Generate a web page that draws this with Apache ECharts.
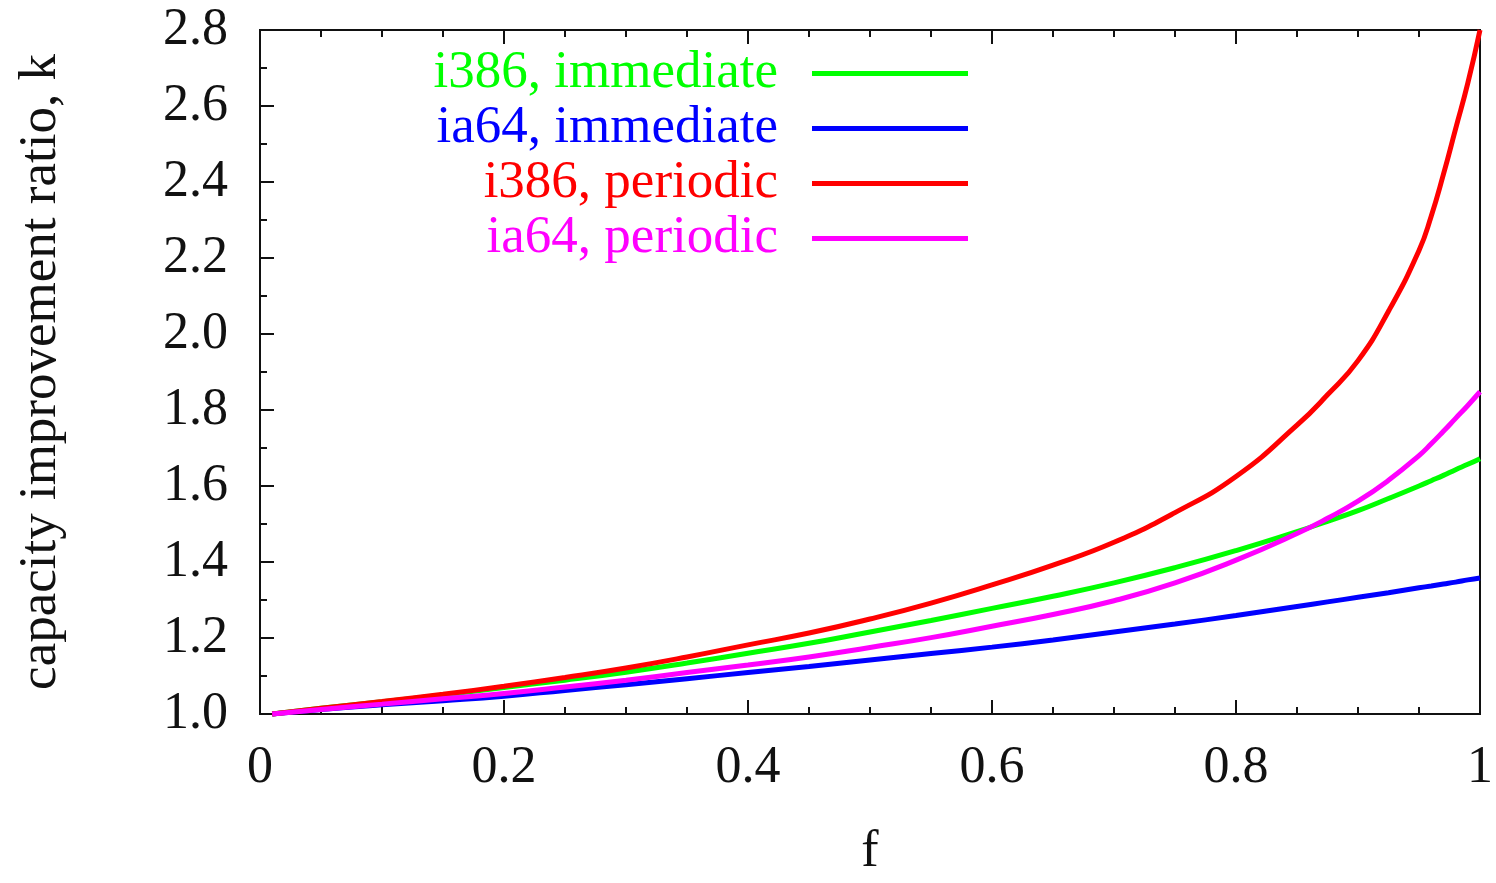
<!DOCTYPE html>
<html>
<head>
<meta charset="utf-8">
<script src="https://cdn.jsdelivr.net/npm/echarts@6/dist/echarts.min.js"></script>
<style>
  html, body { margin: 0; padding: 0; background: #fff; overflow: hidden; }
  #chart { width: 1496px; height: 883px; }
</style>
</head>
<body>
<div id="chart"></div>
<script>
// f values (x) shared by all curves
var fValues = [0.01, 0.05, 0.1, 0.15, 0.2, 0.25, 0.3, 0.35, 0.4, 0.45, 0.5, 0.55, 0.6, 0.65, 0.7, 0.75, 0.8, 0.85, 0.875, 0.9, 0.925, 0.95, 0.96, 0.97, 0.98, 0.99, 1.0];

// capacity improvement ratio k
var i386Immediate = [1.0, 1.015, 1.032, 1.05, 1.07, 1.089, 1.11, 1.134, 1.16, 1.186, 1.216, 1.246, 1.278, 1.31, 1.345, 1.385, 1.43, 1.48, 1.507, 1.535, 1.567, 1.6, 1.614, 1.628, 1.643, 1.657, 1.672];
var ia64Immediate = [1.0, 1.012, 1.024, 1.035, 1.047, 1.062, 1.077, 1.093, 1.109, 1.125, 1.142, 1.159, 1.176, 1.195, 1.216, 1.237, 1.259, 1.283, 1.295, 1.307, 1.319, 1.332, 1.337, 1.342, 1.347, 1.353, 1.358];
var i386Periodic  = [1.0, 1.015, 1.033, 1.052, 1.073, 1.096, 1.121, 1.15, 1.182, 1.213, 1.25, 1.292, 1.34, 1.392, 1.452, 1.53, 1.625, 1.76, 1.84, 1.93, 2.06, 2.22, 2.31, 2.42, 2.54, 2.66, 2.8];
var ia64Periodic  = [1.0, 1.012, 1.026, 1.04, 1.054, 1.071, 1.089, 1.109, 1.129, 1.15, 1.175, 1.201, 1.231, 1.262, 1.298, 1.345, 1.405, 1.475, 1.515, 1.56, 1.615, 1.68, 1.711, 1.744, 1.778, 1.812, 1.848];

var seriesNames = ['i386, immediate', 'ia64, immediate', 'i386, periodic', 'ia64, periodic'];
var seriesColors = ['#00ff00', '#0000ff', '#ff0000', '#ff00ff'];
var seriesValues = [i386Immediate, ia64Immediate, i386Periodic, ia64Periodic];

var xTickLabels = { 0: '0', 0.2: '0.2', 0.4: '0.4', 0.6: '0.6', 0.8: '0.8', 1: '1' };

var font = 'Liberation Serif';

function pairs(vals) {
  return fValues.map(function (f, i) { return [f, vals[i]]; });
}

var chart = echarts.init(document.getElementById('chart'));

var xAxisBase = {
  type: 'value',
  min: 0,
  max: 1,
  interval: 0.2,
  splitLine: { show: false },
  axisLine: { show: true, lineStyle: { color: '#111', width: 2 } },
  axisTick: { show: true, inside: true, length: 14, lineStyle: { color: '#111', width: 2 } },
  minorTick: { show: true, splitNumber: 4, length: 7, lineStyle: { color: '#111', width: 2 } }
};

chart.setOption({
  animation: false,
  backgroundColor: '#fff',
  grid: {
    left: 260, right: 9, top: 30, bottom: 159,
    show: true, borderColor: '#111', borderWidth: 2
  },
  legend: {
    orient: 'vertical',
    right: 528,
    top: 47,
    align: 'right',
    padding: 0,
    itemGap: 2,
    itemWidth: 156,
    itemHeight: 5,
    icon: 'rect',
    data: seriesNames.map(function (n, i) {
      return { name: n, textStyle: { color: seriesColors[i] } };
    }),
    textStyle: {
      fontFamily: font, fontSize: 53, lineHeight: 52,
      padding: [0, 29, 0, 0]
    }
  },
  xAxis: [
    Object.assign({}, xAxisBase, {
      position: 'bottom',
      name: 'f',
      nameLocation: 'middle',
      nameGap: 112,
      nameTextStyle: { fontFamily: font, fontSize: 52, color: '#111' },
      axisLabel: {
        margin: 28,
        fontFamily: font, fontSize: 52, color: '#111',
        formatter: function (v) { return xTickLabels[v] !== undefined ? xTickLabels[v] : ''; }
      }
    }),
    Object.assign({}, xAxisBase, {
      position: 'top',
      axisLabel: { show: false }
    })
  ],
  yAxis: {
    type: 'value',
    min: 1.0,
    max: 2.8,
    interval: 0.2,
    name: 'capacity improvement ratio, k',
    nameLocation: 'middle',
    nameGap: 192,
    nameTextStyle: { fontFamily: font, fontSize: 53, color: '#111' },
    splitLine: { show: false },
    axisLine: { show: true, lineStyle: { color: '#111', width: 2 } },
    axisTick: { show: true, inside: true, length: 14, lineStyle: { color: '#111', width: 2 } },
    minorTick: { show: true, splitNumber: 2, length: 7, lineStyle: { color: '#111', width: 2 } },
    axisLabel: {
      margin: 32,
      fontFamily: font, fontSize: 52, color: '#111',
      formatter: function (v) { return v.toFixed(1); }
    }
  },
  series: seriesValues.map(function (vals, i) {
    return {
      name: seriesNames[i],
      type: 'line',
      data: pairs(vals),
      showSymbol: false,
      smooth: 0.5,
      clip: false,
      color: seriesColors[i],
      lineStyle: { color: seriesColors[i], width: 5 },
      z: i === 1 ? 1 : 2 + i
    };
  })
});
</script>
</body>
</html>
